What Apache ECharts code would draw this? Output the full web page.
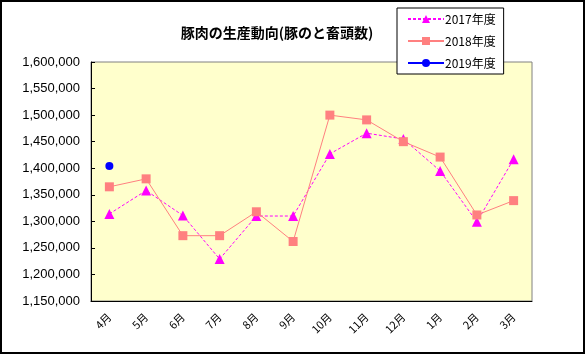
<!DOCTYPE html>
<html><head><meta charset="utf-8">
<script src="https://cdn.jsdelivr.net/npm/echarts@6/dist/echarts.min.js"></script>
<style>html,body{margin:0;padding:0;background:#fff}#c{width:586px;height:355px}</style>
</head><body><div id="c"></div>
<script>
const categories = ['4月','5月','6月','7月','8月','9月','10月','11月','12月','1月','2月','3月'];
const fy2017 = [1314000,1358000,1311000,1229000,1310000,1310000,1427000,1466000,1455000,1395000,1299000,1417000];
const fy2018 = [1365000,1380000,1273000,1273000,1318000,1262000,1500000,1491000,1450000,1421000,1312000,1339000];
const fy2019 = [1404000,null,null,null,null,null,null,null,null,null,null,null];
const seriesNames = ['2017年度','2018年度','2019年度'];
const titleText = '豚肉の生産動向(豚のと畜頭数)';
const yMin = 1150000, yMax = 1600000, yStep = 50000;

const chart = echarts.init(document.getElementById('c'), null, {renderer:'canvas'});
const font = '"Noto Sans CJK JP", "Liberation Sans", sans-serif';
chart.setOption({
  animation:false,
  backgroundColor:'#fff',
  textStyle:{fontFamily:font},
  title:{text:titleText, left:272, top:21, textAlign:'center',
    textStyle:{fontSize:14, fontWeight:'bold', color:'#000', fontFamily:font}},
  legend:{
    orient:'vertical', left:397, top:8, width:115,
    backgroundColor:'#fff', borderColor:'#000', borderWidth:1,
    padding:[4,8,4,10], itemGap:8, itemWidth:36, itemHeight:10,
    textStyle:{fontSize:12, lineHeight:14, color:'#000', fontFamily:font, padding:[0,0,0,-4]},
    data:seriesNames
  },
  grid:{left:91, right:54, top:62, bottom:54, show:true, backgroundColor:'#FFFFCC', borderColor:'#808080', borderWidth:1},
  xAxis:{type:'category', data:categories, boundaryGap:true,
    axisLine:{lineStyle:{color:'#000', width:1}},
    axisTick:{inside:true, length:4, lineStyle:{color:'#000'}, alignWithLabel:false},
    axisLabel:{rotate:45, margin:14, fontSize:11, color:'#000', fontFamily:font}
  },
  yAxis:{type:'value', min:yMin, max:yMax, interval:yStep,
    axisLine:{show:true, lineStyle:{color:'#000', width:1}},
    axisTick:{show:true, inside:true, length:4, lineStyle:{color:'#000'}},
    splitLine:{show:false},
    axisLabel:{margin:11, fontSize:13, color:'#000', fontFamily:'"Liberation Sans", sans-serif',
      formatter:v=>v.toLocaleString('en-US')}
  },
  graphic:[{type:'rect', shape:{x:1, y:1, width:583, height:352}, style:{fill:null, stroke:'#000', lineWidth:2}, silent:true}],
  series:[
    {name:seriesNames[0], type:'line', data:fy2017, symbol:'triangle', symbolSize:10,
      itemStyle:{color:'#FF00FF'}, lineStyle:{color:'#FF00FF', width:1, type:[3,2]}, z:3},
    {name:seriesNames[1], type:'line', data:fy2018, symbol:'rect', symbolSize:9,
      itemStyle:{color:'#FF8080'}, lineStyle:{color:'#FF8080', width:1}, z:4},
    {name:seriesNames[2], type:'line', data:fy2019, symbol:'circle', symbolSize:8,
      itemStyle:{color:'#0000FF'}, lineStyle:{color:'#0000FF', width:1}, z:5}
  ]
});
</script></body></html>
